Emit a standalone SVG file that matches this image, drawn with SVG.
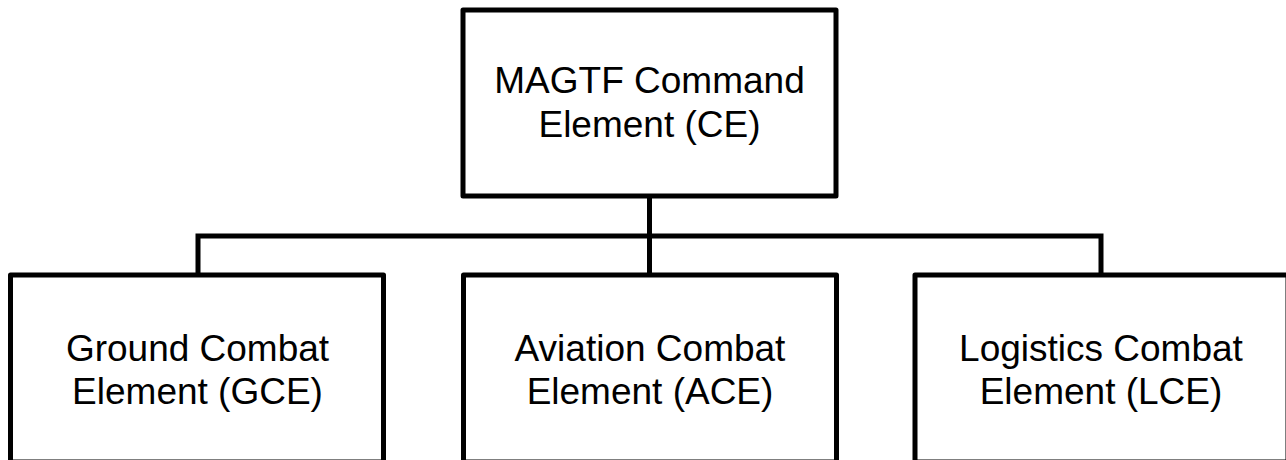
<svg xmlns="http://www.w3.org/2000/svg" width="1286" height="460" viewBox="0 0 1286 460">
<style>
.box{fill:#fff;stroke:#000;stroke-width:5;stroke-linejoin:round}
.conn{fill:none;stroke:#000;stroke-width:5;stroke-linejoin:miter}
.lbl{font-family:"Liberation Sans",Arial,sans-serif;font-size:37px;fill:#000;text-anchor:middle}
</style>
<rect width="1286" height="460" fill="#fff"/>
<g id="connectors">
<path class="conn" d="M649.5,196 V275"/>
<path class="conn" d="M198,275 V236 H1101 V275"/>
</g>
<g id="ce">
<rect class="box" x="463" y="10" width="373" height="186"/>
<text class="lbl" x="649.5" y="93.3">MAGTF Command</text>
<text class="lbl" x="649.5" y="136.7">Element (CE)</text>
</g>
<g id="gce">
<rect class="box" x="10.5" y="275" width="373" height="187"/>
<text class="lbl" x="197.5" y="360.5">Ground Combat</text>
<text class="lbl" x="197.5" y="403.5">Element (GCE)</text>
</g>
<g id="ace">
<rect class="box" x="463.5" y="275" width="373" height="187"/>
<text class="lbl" x="650" y="360.5">Aviation Combat</text>
<text class="lbl" x="650" y="403.5">Element (ACE)</text>
</g>
<g id="lce">
<rect class="box" x="915" y="275" width="373" height="187"/>
<text class="lbl" x="1101" y="360.5">Logistics Combat</text>
<text class="lbl" x="1101" y="403.5">Element (LCE)</text>
</g>
</svg>
